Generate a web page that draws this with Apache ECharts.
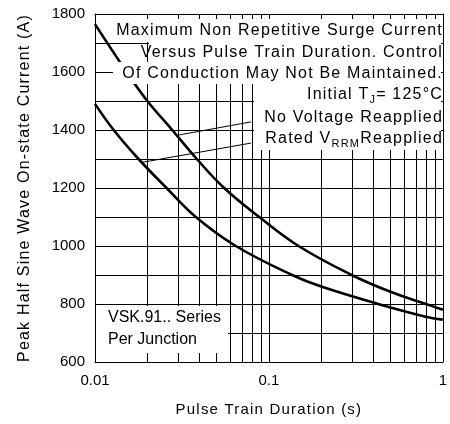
<!DOCTYPE html>
<html>
<head>
<meta charset="utf-8">
<script src="https://cdn.jsdelivr.net/npm/echarts@6/dist/echarts.min.js"></script>
<style>
html,body{margin:0;padding:0;background:#fff;}
#chart{width:450px;height:424px;}
</style>
</head>
<body>
<div id="chart"></div>
<script>
// Letter spacing for text whose font list ends with sans-serif (matches the spaced look of the reference)
(function () {
  var P = window.CanvasRenderingContext2D && CanvasRenderingContext2D.prototype;
  if (!P || !('letterSpacing' in P)) return;
  var of = P.fillText, om = P.measureText;
  function ls(ctx) {
    var v = /sans-serif/.test(ctx.font) ? '1.2px' : '0px';
    if (ctx.letterSpacing !== v) ctx.letterSpacing = v;
  }
  P.fillText = function () { ls(this); return of.apply(this, arguments); };
  P.measureText = function () { ls(this); return om.apply(this, arguments); };
})();

// ---- data ----
const noVoltX = [0.01, 0.0152, 0.02, 0.0278, 0.0385, 0.0553, 0.088, 0.148, 0.299, 0.5, 0.8, 1];
const noVoltY = [1765, 1600, 1500, 1400, 1300, 1200, 1100, 1000, 900, 842, 800, 780];
const ratedX = [0.01, 0.0128, 0.0178, 0.0258, 0.038, 0.0645, 0.136, 0.2, 0.425, 0.786, 1];
const ratedY = [1490, 1400, 1300, 1200, 1100, 1000, 900, 860, 800, 757, 746];
const gridX = [0.02, 0.03, 0.04, 0.05, 0.06, 0.07, 0.08, 0.09, 0.1, 0.2, 0.3, 0.4, 0.5, 0.6, 0.7, 0.8, 0.9];
const gridY = [700, 800, 900, 1000, 1100, 1200, 1300, 1400, 1500, 1600, 1700];
const xMin = 0.01, xMax = 1, yMin = 600, yMax = 1800, yStep = 200;
// leader lines: [curve point, label point]
const leaderNoVolt = [[0.0298, 1382], [0.079, 1428]];
const leaderRated = [[0.0185, 1288], [0.079, 1355]];

const SP = '"Liberation Sans", sans-serif'; // spaced
const PL = '"Liberation Sans"';             // plain

const chart = echarts.init(document.getElementById('chart'), null, {renderer: 'canvas'});

function pairs(xs, ys) { return xs.map((x, i) => [x, ys[i]]); }

const gridLines = gridX.map(v => ({xAxis: v})).concat(gridY.map(v => ({yAxis: v})));
const leaders = [leaderNoVolt, leaderRated].map(l => [{coord: l[0]}, {coord: l[1]}]);

const axisLineStyle = {show: true, lineStyle: {color: '#000', width: 1}};
const BOX_Z = 50, TXT_Z = 51;

const option = {
  animation: false,
  backgroundColor: '#fff',
  grid: {left: 95, right: 5, top: 14, bottom: 62},
  xAxis: [{
    type: 'log', logBase: 10, min: xMin, max: xMax, position: 'bottom', z: 60,
    axisLine: axisLineStyle, axisTick: {show: false}, splitLine: {show: false}, minorTick: {show: false},
    axisLabel: {color: '#000', fontSize: 15, fontFamily: PL, margin: 11,
      formatter: v => String(+(+v).toPrecision(3))},
    name: 'Pulse Train Duration (s)', nameLocation: 'middle', nameGap: 40,
    nameTextStyle: {color: '#000', fontSize: 15, fontFamily: SP}
  }, {
    type: 'log', logBase: 10, min: xMin, max: xMax, position: 'top', z: 60,
    axisLine: axisLineStyle, axisTick: {show: false}, splitLine: {show: false}, axisLabel: {show: false}
  }],
  yAxis: [{
    type: 'value', min: yMin, max: yMax, interval: yStep, position: 'left', z: 60,
    axisLine: axisLineStyle, axisTick: {show: false}, splitLine: {show: false},
    axisLabel: {color: '#000', fontSize: 15, fontFamily: PL, margin: 10, formatter: v => String(v)},
    name: 'Peak Half Sine Wave On-state Current (A)', nameLocation: 'middle', nameGap: 62,
    nameTextStyle: {color: '#000', fontSize: 16, fontFamily: SP}
  }, {
    type: 'value', min: yMin, max: yMax, interval: yStep, position: 'right', z: 60,
    axisLine: axisLineStyle, axisTick: {show: false}, splitLine: {show: false}, axisLabel: {show: false}
  }],
  series: [{
    name: 'grid', type: 'line', data: [], z: 1, silent: true,
    markLine: {
      z: 1, silent: true, symbol: ['none', 'none'], label: {show: false}, animation: false,
      emphasis: {disabled: true},
      lineStyle: {color: '#000', width: 1, type: 'solid'},
      data: gridLines.concat(leaders)
    }
  }, {
    name: 'No Voltage Reapplied', type: 'line', z: 3, data: pairs(noVoltX, noVoltY),
    symbol: 'none', smooth: 0.4,
    lineStyle: {color: '#000', width: 2.6}
  }, {
    name: 'Rated VRRM Reapplied', type: 'line', z: 3, data: pairs(ratedX, ratedY),
    symbol: 'none', smooth: 0.4,
    lineStyle: {color: '#000', width: 2.6}
  }],
  graphic: {
    elements: [
      {type: 'rect', z: BOX_Z, silent: true, shape: {x: 112, y: 19, width: 329, height: 23}, style: {fill: '#fff'}},
      {type: 'rect', z: BOX_Z, silent: true, shape: {x: 149, y: 41, width: 292, height: 21}, style: {fill: '#fff'}},
      {type: 'rect', z: BOX_Z, silent: true, shape: {x: 113, y: 62, width: 328, height: 22}, style: {fill: '#fff'}},
      {type: 'rect', z: BOX_Z, silent: true, shape: {x: 254, y: 84, width: 187, height: 66}, style: {fill: '#fff'}},
      {type: 'rect', z: BOX_Z, silent: true, shape: {x: 96, y: 306, width: 132, height: 47}, style: {fill: '#fff'}},
      {type: 'text', z: TXT_Z, silent: true, x: 443, y: 31, style: {text: 'Maximum Non Repetitive Surge Current', fontSize: 16, fontFamily: SP, fill: '#000', align: 'right', verticalAlign: 'middle'}},
      {type: 'text', z: TXT_Z, silent: true, x: 443, y: 52.5, style: {text: 'Versus Pulse Train Duration. Control', fontSize: 16, fontFamily: SP, fill: '#000', align: 'right', verticalAlign: 'middle'}},
      {type: 'text', z: TXT_Z, silent: true, x: 443, y: 74, style: {text: 'Of Conduction May Not Be Maintained.', fontSize: 16, fontFamily: SP, fill: '#000', align: 'right', verticalAlign: 'middle'}},
      {type: 'text', z: TXT_Z, silent: true, x: 443, y: 95, style: {
        text: '{n|Initial T}{s|J}{n|= 125°C}', align: 'right', verticalAlign: 'middle', fill: '#000', fontSize: 16, fontFamily: SP,
        rich: {n: {fontSize: 16, fontFamily: SP, fill: '#000', lineHeight: 22, verticalAlign: 'middle'},
               s: {fontSize: 11, fontFamily: SP, fill: '#000', lineHeight: 22, verticalAlign: 'bottom'}}}},
      {type: 'text', z: TXT_Z, silent: true, x: 443, y: 117.5, style: {text: 'No Voltage Reapplied', fontSize: 16, fontFamily: SP, fill: '#000', align: 'right', verticalAlign: 'middle'}},
      {type: 'text', z: TXT_Z, silent: true, x: 443, y: 139, style: {
        text: '{n|Rated V}{s|RRM}{n|Reapplied}', align: 'right', verticalAlign: 'middle', fill: '#000', fontSize: 16, fontFamily: SP,
        rich: {n: {fontSize: 16, fontFamily: SP, fill: '#000', lineHeight: 22, verticalAlign: 'middle'},
               s: {fontSize: 11, fontFamily: SP, fill: '#000', lineHeight: 22, verticalAlign: 'bottom'}}}},
      {type: 'text', z: TXT_Z, silent: true, x: 108, y: 318, style: {text: 'VSK.91.. Series', fontSize: 16, fontFamily: PL, fill: '#000', align: 'left', verticalAlign: 'middle'}},
      {type: 'text', z: TXT_Z, silent: true, x: 108, y: 340, style: {text: 'Per Junction', fontSize: 16, fontFamily: PL, fill: '#000', align: 'left', verticalAlign: 'middle'}}
    ]
  }
};
chart.setOption(option);
</script>
</body>
</html>
